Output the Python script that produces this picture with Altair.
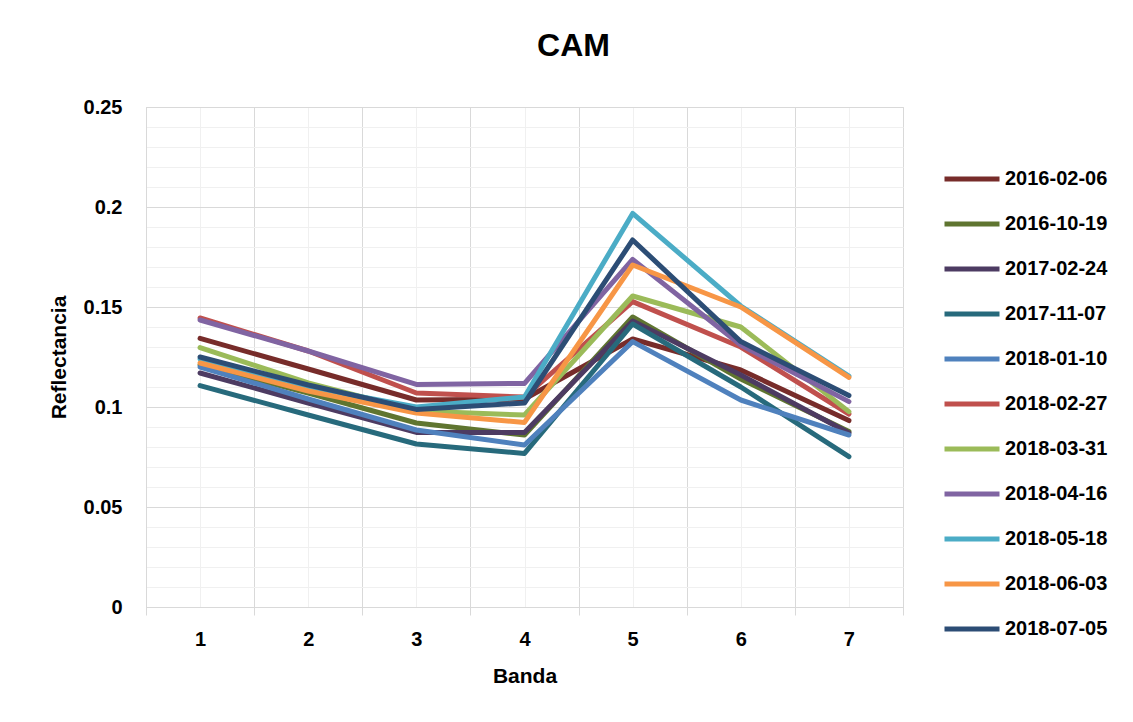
import altair as alt
import pandas as pd

bands = [1, 2, 3, 4, 5, 6, 7]
dates = ["2016-02-06", "2016-10-19", "2017-02-24", "2017-11-07", "2018-01-10",
         "2018-02-27", "2018-03-31", "2018-04-16", "2018-05-18", "2018-06-03", "2018-07-05"]
colors = ["#772C2A", "#5F7530", "#4D3B62", "#276A7C", "#4F81BD",
          "#C0504D", "#9BBB59", "#8064A2", "#4BACC6", "#F79646", "#2C4D75"]

s_2016_02_06 = [0.1343, 0.119, 0.1035, 0.104, 0.134, 0.1185, 0.0932]
s_2016_10_19 = [0.121, 0.107, 0.092, 0.086, 0.145, 0.114, 0.0877]
s_2017_02_24 = [0.117, 0.102, 0.0873, 0.0873, 0.143, 0.116, 0.087]
s_2017_11_07 = [0.1107, 0.096, 0.0815, 0.0768, 0.1415, 0.110, 0.0752]
s_2018_01_10 = [0.120, 0.104, 0.0885, 0.081, 0.1327, 0.1035, 0.086]
s_2018_02_27 = [0.1445, 0.128, 0.107, 0.105, 0.1527, 0.130, 0.0965]
s_2018_03_31 = [0.1297, 0.112, 0.098, 0.096, 0.1555, 0.140, 0.0977]
s_2018_04_16 = [0.1435, 0.128, 0.1113, 0.1118, 0.1738, 0.131, 0.1027]
s_2018_05_18 = [0.124, 0.110, 0.100, 0.105, 0.1968, 0.1505, 0.1155]
s_2018_06_03 = [0.122, 0.108, 0.097, 0.0923, 0.171, 0.150, 0.1148]
s_2018_07_05 = [0.125, 0.111, 0.0988, 0.102, 0.1835, 0.1327, 0.1057]

series = [s_2016_02_06, s_2016_10_19, s_2017_02_24, s_2017_11_07, s_2018_01_10,
          s_2018_02_27, s_2018_03_31, s_2018_04_16, s_2018_05_18, s_2018_06_03, s_2018_07_05]

x_ticks = [0.5, 1, 1.5, 2, 2.5, 3, 3.5, 4, 4.5, 5, 5.5, 6, 6.5, 7, 7.5]
y_ticks = [round(i * 0.01, 2) for i in range(26)]

rows = []
for d, vals in zip(dates, series):
    for b, v in zip(bands, vals):
        rows.append({"Banda": b, "Reflectancia": v, "Fecha": d})
df = pd.DataFrame(rows)

FONT = "Liberation Sans"
MAJOR = "#D9D9D9"
MINOR = "#F0F0F0"

x_axis = alt.Axis(
    values=x_ticks,
    labelExpr="datum.value % 1 == 0 ? toString(datum.value) : ''",
    grid=True,
    gridColor={"condition": {"test": "datum.value % 1 == 0", "value": MINOR}, "value": MAJOR},
    gridWidth=1,
    ticks=True,
    tickSize=8,
    tickColor=MAJOR,
    tickOpacity={"condition": {"test": "datum.value % 1 == 0", "value": 0}, "value": 1},
    domainColor=MAJOR,
    labelFont=FONT, labelFontSize=20, labelFontWeight="bold", labelColor="#000000",
    labelPadding=14, labelFlush=False,
    title="Banda", titleFont=FONT, titleFontSize=21, titleFontWeight="bold",
    titleColor="#000000", titlePadding=16,
)

y_axis = alt.Axis(
    values=y_ticks,
    labelExpr="round(datum.value * 100) % 5 == 0 ? toString(round(datum.value * 100) / 100) : ''",
    grid=True,
    gridColor={"condition": {"test": "round(datum.value * 100) % 5 == 0", "value": MAJOR}, "value": MINOR},
    ticks=False,
    domainColor=MAJOR,
    labelFont=FONT, labelFontSize=20, labelFontWeight="bold", labelColor="#000000",
    labelPadding=24, labelFlush=False,
    title="Reflectancia", titleFont=FONT, titleFontSize=21, titleFontWeight="bold",
    titleColor="#000000", titlePadding=14,
)

chart = alt.Chart(df).mark_line(strokeWidth=5, strokeCap="round", strokeJoin="round").encode(
    x=alt.X("Banda:Q", scale=alt.Scale(domain=[0.5, 7.5], nice=False, zero=False), axis=x_axis),
    y=alt.Y("Reflectancia:Q", scale=alt.Scale(domain=[0, 0.25], nice=False), axis=y_axis),
    color=alt.Color("Fecha:N", scale=alt.Scale(domain=dates, range=colors),
                    legend=alt.Legend(orient="none", legendX=796, legendY=42, title=None,
                                      symbolType="stroke", symbolSize=3025, symbolStrokeWidth=5,
                                      labelFont=FONT, labelFontSize=20, labelFontWeight="bold",
                                      labelColor="#000000", labelOffset=3, rowPadding=5)),
).properties(
    width=757, height=500,
    title=alt.TitleParams("CAM", font=FONT, fontSize=32, fontWeight="bold", color="#000000",
                          anchor="middle", dx=49, offset=34),
    padding={"left": 138, "top": 99, "right": 220, "bottom": 100},
    autosize="none",
).configure_view(stroke=None).configure(background="#FFFFFF")

chart.save("out.html", embed_options={"renderer": "svg", "actions": False})
